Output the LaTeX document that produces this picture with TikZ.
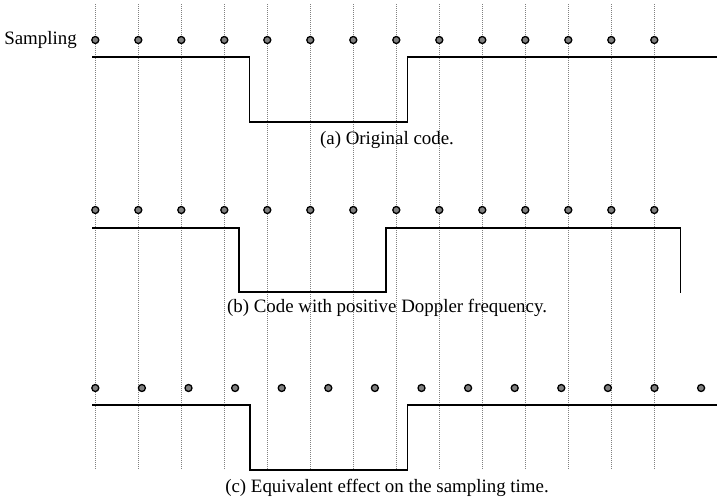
\documentclass[tikz,border=0pt]{standalone}
\usepackage{fontspec}
\setmainfont{Liberation Serif}
\begin{document}
\begin{tikzpicture}[x=1pt,y=-1pt,
  grid/.style={gray,line width=0.6pt,dash pattern=on 1pt off 1pt},
  code/.style={black,line width=1.5pt,line join=miter},
  sample/.style={circle,draw=black,fill=black!50,line width=1.3pt,minimum size=7pt,inner sep=0pt},
  lbl/.style={font=\fontsize{18.9}{22}\selectfont,inner sep=0pt}]
\useasboundingbox (0,0) rectangle (717,501);
% dotted grid
\foreach \k in {0,...,13}{
  \coordinate (gt\k) at (95.3+43*\k,4);
  \coordinate (gb\k) at (95.3+43*\k,469);
  \draw[grid] (gt\k) -- (gb\k);
}
% labels
\node[lbl,anchor=east] (samp) at (77,40) {Sampling};
\node[lbl] (capa) at (387,140) {(a) Original code.};
\node[lbl] (capb) at (387,308) {(b) Code with positive Doppler frequency.};
\node[lbl] (capc) at (387,488) {(c) Equivalent effect on the sampling time.};
% row (a)
\draw[code] (92,57) -- (249.7,57) -- (249.7,122) -- (407.3,122) -- (407.3,57) -- (717,57);
\foreach \k in {0,...,13}{\node[sample] (sa\k) at (95.3+43*\k,40) {};}
% row (b)
\draw[code] (92,228) -- (239,228) -- (239,292) -- (386,292) -- (386,228) -- (680.3,228) -- (680.3,293);
\foreach \k in {0,...,13}{\node[sample] (sb\k) at (95.3+43*\k,210) {};}
% row (c)
\draw[code] (92,405) -- (250,405) -- (250,470) -- (407.3,470) -- (407.3,405) -- (717,405);
\foreach \k in {0,...,13}{\node[sample] (sc\k) at (95.3+46.6*\k,388) {};}
\end{tikzpicture}
\end{document}
